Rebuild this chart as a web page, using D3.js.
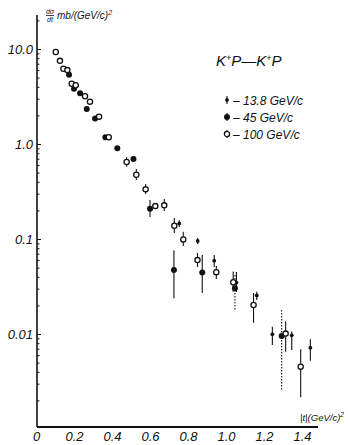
<!DOCTYPE html>
<html>
<head>
<meta charset="utf-8">
<script src="https://cdn.jsdelivr.net/npm/d3@7"></script>
<style>
  body { margin: 0; background: #fff; }
  text { font-family: "Liberation Sans Narrow", "Liberation Sans", sans-serif; font-style: italic; fill: #111; }
</style>
</head>
<body>
<svg id="chart"></svg>
<script>
// K+p -> K+p, d(sigma)/dt vs |t|
const t100 = [0.104, 0.126, 0.144, 0.165, 0.188, 0.209, 0.258, 0.284, 0.332, 0.383, 0.477, 0.528, 0.577, 0.628, 0.675, 0.728, 0.775, 0.850, 0.949, 1.038, 1.145, 1.314, 1.393];
const ds100 = [9.3, 7.5, 6.2, 6.0, 4.3, 4.15, 3.18, 2.79, 1.94, 1.18, 0.647, 0.475, 0.333, 0.222, 0.226, 0.138, 0.099, 0.060, 0.0448, 0.0351, 0.0202, 0.0101, 0.00453];
const lo100 = [null, null, null, null, null, null, null, null, null, null, 0.577, 0.418, 0.298, null, 0.197, 0.116, 0.0844, 0.0507, 0.0379, 0.0279, 0.0131, 0.00651, 0.00216];
const hi100 = [null, null, null, null, null, null, null, null, null, null, 0.724, 0.546, 0.379, null, 0.264, 0.166, 0.119, 0.0713, 0.052, 0.0454, 0.027, 0.0135, 0.0069];

const t45 = [0.174, 0.200, 0.232, 0.267, 0.311, 0.365, 0.428, 0.513, 0.600, 0.726, 0.875, 1.047, 1.293];
const ds45 = [5.36, 3.82, 3.42, 2.34, 1.85, 1.18, 0.901, 0.695, 0.208, 0.0472, 0.0444, 0.0303, 0.00953];
const lo45 = [null, null, null, null, null, null, null, null, 0.170, 0.0238, 0.027, 0.0179, 0.00258];
const hi45 = [null, null, null, null, null, null, null, null, 0.257, 0.076, 0.0679, 0.0418, 0.0179];

const t13 = [0.754, 0.851, 0.938, 1.055, 1.162, 1.244, 1.346, 1.444];
const ds13 = [0.146, 0.0953, 0.0591, 0.0348, 0.0255, 0.00993, 0.00969, 0.00718];
const lo13 = [0.134, 0.0886, 0.0507, 0.0277, 0.0228, 0.00766, 0.00679, 0.00524];
const hi13 = [0.158, 0.1026, 0.0679, 0.045, 0.0279, 0.0119, 0.0106, 0.0088];

const xTicks = [0, 0.2, 0.4, 0.6, 0.8, 1.0, 1.2, 1.4];
const xTickLabels = ["0", "0.2", "0.4", "0.6", "0.8", "1.0", "1.2", "1.4"];
const yTicks = [10, 1, 0.1, 0.01];
const yTickLabels = ["10.0", "1.0", "0.1", "0.01"];
const legendLabels = ["– 13.8 GeV/c", "– 45 GeV/c", "– 100 GeV/c"];

const W = 348, H = 445;
const axisX = 37, axisTop = 15, axisBottom = 427, axisRight = 318;
const ink = "#111";

const svg = d3.select("#chart").attr("width", W).attr("height", H);

const x = d3.scaleLinear().domain([0, 1.5]).range([36, 321]);
const y = d3.scaleLog().domain([0.001, 10]).range([429, 49]);

// axis lines
svg.append("line")
  .attr("x1", axisX).attr("x2", axisX).attr("y1", axisTop).attr("y2", axisBottom)
  .attr("stroke", ink).attr("stroke-width", 1.6);
svg.append("line")
  .attr("x1", axisX).attr("x2", axisRight).attr("y1", axisBottom).attr("y2", axisBottom)
  .attr("stroke", ink).attr("stroke-width", 1.8);

// y axis: decade labels + minor ticks pointing inward
const minor = [];
for (let e = -3; e <= 1; e++) {
  for (let k = 1; k <= 9; k++) {
    const v = k * Math.pow(10, e);
    if (y(v) >= axisTop + 2 && y(v) <= axisBottom - 2) minor.push(v);
  }
}
const yAxisG = svg.append("g").attr("transform", `translate(${axisX},0)`)
  .call(d3.axisLeft(y).tickValues(minor).tickSize(-3).tickPadding(4)
    .tickFormat(d => {
      const i = yTicks.findIndex(t => Math.abs(t - d) / t < 1e-6);
      return i >= 0 ? yTickLabels[i] : "";
    }));
yAxisG.select(".domain").remove();
yAxisG.selectAll(".tick line").attr("stroke", ink).attr("stroke-width", 1)
  .attr("x2", d => yTicks.some(t => Math.abs(t - d) / t < 1e-6) ? 4 : 2.5);
yAxisG.selectAll(".tick text").attr("font-size", 13).attr("fill", ink)
  .style("font-family", null);

// x axis labels
const xAxisG = svg.append("g").attr("transform", `translate(0,${axisBottom})`)
  .call(d3.axisBottom(x).tickValues(xTicks).tickSize(0).tickPadding(5)
    .tickFormat((d, i) => xTickLabels[i]));
xAxisG.select(".domain").remove();
xAxisG.selectAll(".tick text").attr("font-size", 13).attr("fill", ink);

// error bars
function bars(ts, lo, hi, dashFrom) {
  svg.append("g").selectAll("line")
    .data(ts.map((t, i) => ({t, lo: lo[i], hi: hi[i], i})).filter(d => d.lo !== null))
    .join("line")
    .attr("x1", d => x(d.t)).attr("x2", d => x(d.t))
    .attr("y1", d => y(d.hi)).attr("y2", d => y(d.lo))
    .attr("stroke", ink).attr("stroke-width", 1.1)
    .attr("stroke-dasharray", d => dashFrom !== undefined && d.i >= dashFrom ? "1.5,1.5" : null);
}
bars(t100, lo100, hi100);
bars(t45, lo45, hi45, 11);
bars(t13, lo13, hi13);

// points
svg.append("g").selectAll("circle")
  .data(t45.map((t, i) => ({t, v: ds45[i]})))
  .join("circle")
  .attr("cx", d => x(d.t)).attr("cy", d => y(d.v)).attr("r", 3)
  .attr("fill", ink);

svg.append("g").selectAll("circle")
  .data(t13.map((t, i) => ({t, v: ds13[i]})))
  .join("circle")
  .attr("cx", d => x(d.t)).attr("cy", d => y(d.v)).attr("r", 1.9)
  .attr("fill", ink);

svg.append("g").selectAll("circle")
  .data(t100.map((t, i) => ({t, v: ds100[i]})))
  .join("circle")
  .attr("cx", d => x(d.t)).attr("cy", d => y(d.v)).attr("r", 2.6)
  .attr("fill", "#fff").attr("stroke", ink).attr("stroke-width", 1.3);

// y title: d(sigma)/dt  mb/(GeV/c)^2
const yt = svg.append("g").attr("transform", "translate(46,0)");
yt.append("text").attr("x", 4).attr("y", 14).attr("font-size", 7).attr("text-anchor", "middle").text("dσ");
yt.append("line").attr("x1", 0).attr("x2", 8).attr("y1", 15.5).attr("y2", 15.5).attr("stroke", ink).attr("stroke-width", 0.8);
yt.append("text").attr("x", 4).attr("y", 21.5).attr("font-size", 7).attr("text-anchor", "middle").text("dt");
const ytu = yt.append("text").attr("x", 11).attr("y", 19).attr("font-size", 10);
ytu.append("tspan").text("mb/(GeV/c)");
ytu.append("tspan").attr("dy", -4).attr("font-size", 7).text("2");

// x title
const xt = svg.append("text").attr("x", 300).attr("y", 421).attr("font-size", 9.5);
xt.append("tspan").text("|t|(GeV/c)");
xt.append("tspan").attr("dy", -4).attr("font-size", 6.5).text("2");

// reaction
const rx = svg.append("text").attr("x", 216).attr("y", 66).attr("font-size", 15);
rx.append("tspan").text("K");
rx.append("tspan").attr("dy", -5).attr("font-size", 9).text("+");
rx.append("tspan").attr("dy", 5).text("P—K");
rx.append("tspan").attr("dy", -5).attr("font-size", 9).text("+");
rx.append("tspan").attr("dy", 5).text("P");

// legend
const legY = [100, 117, 134];
const lg = svg.append("g").attr("transform", "translate(227,0)");
lg.selectAll("line").data(legY).join("line")
  .attr("x1", 0).attr("x2", 0).attr("y1", d => d - 4).attr("y2", d => d + 4)
  .attr("stroke", ink).attr("stroke-width", 1.1);
lg.append("circle").attr("cx", 0).attr("cy", legY[0]).attr("r", 1.9).attr("fill", ink);
lg.append("circle").attr("cx", 0).attr("cy", legY[1]).attr("r", 3).attr("fill", ink);
lg.append("circle").attr("cx", 0).attr("cy", legY[2]).attr("r", 2.6)
  .attr("fill", "#fff").attr("stroke", ink).attr("stroke-width", 1.3);
lg.selectAll("text").data(legendLabels).join("text")
  .attr("x", 6).attr("y", (d, i) => legY[i] + 5).attr("font-size", 12).text(d => d);
</script>
</body>
</html>
